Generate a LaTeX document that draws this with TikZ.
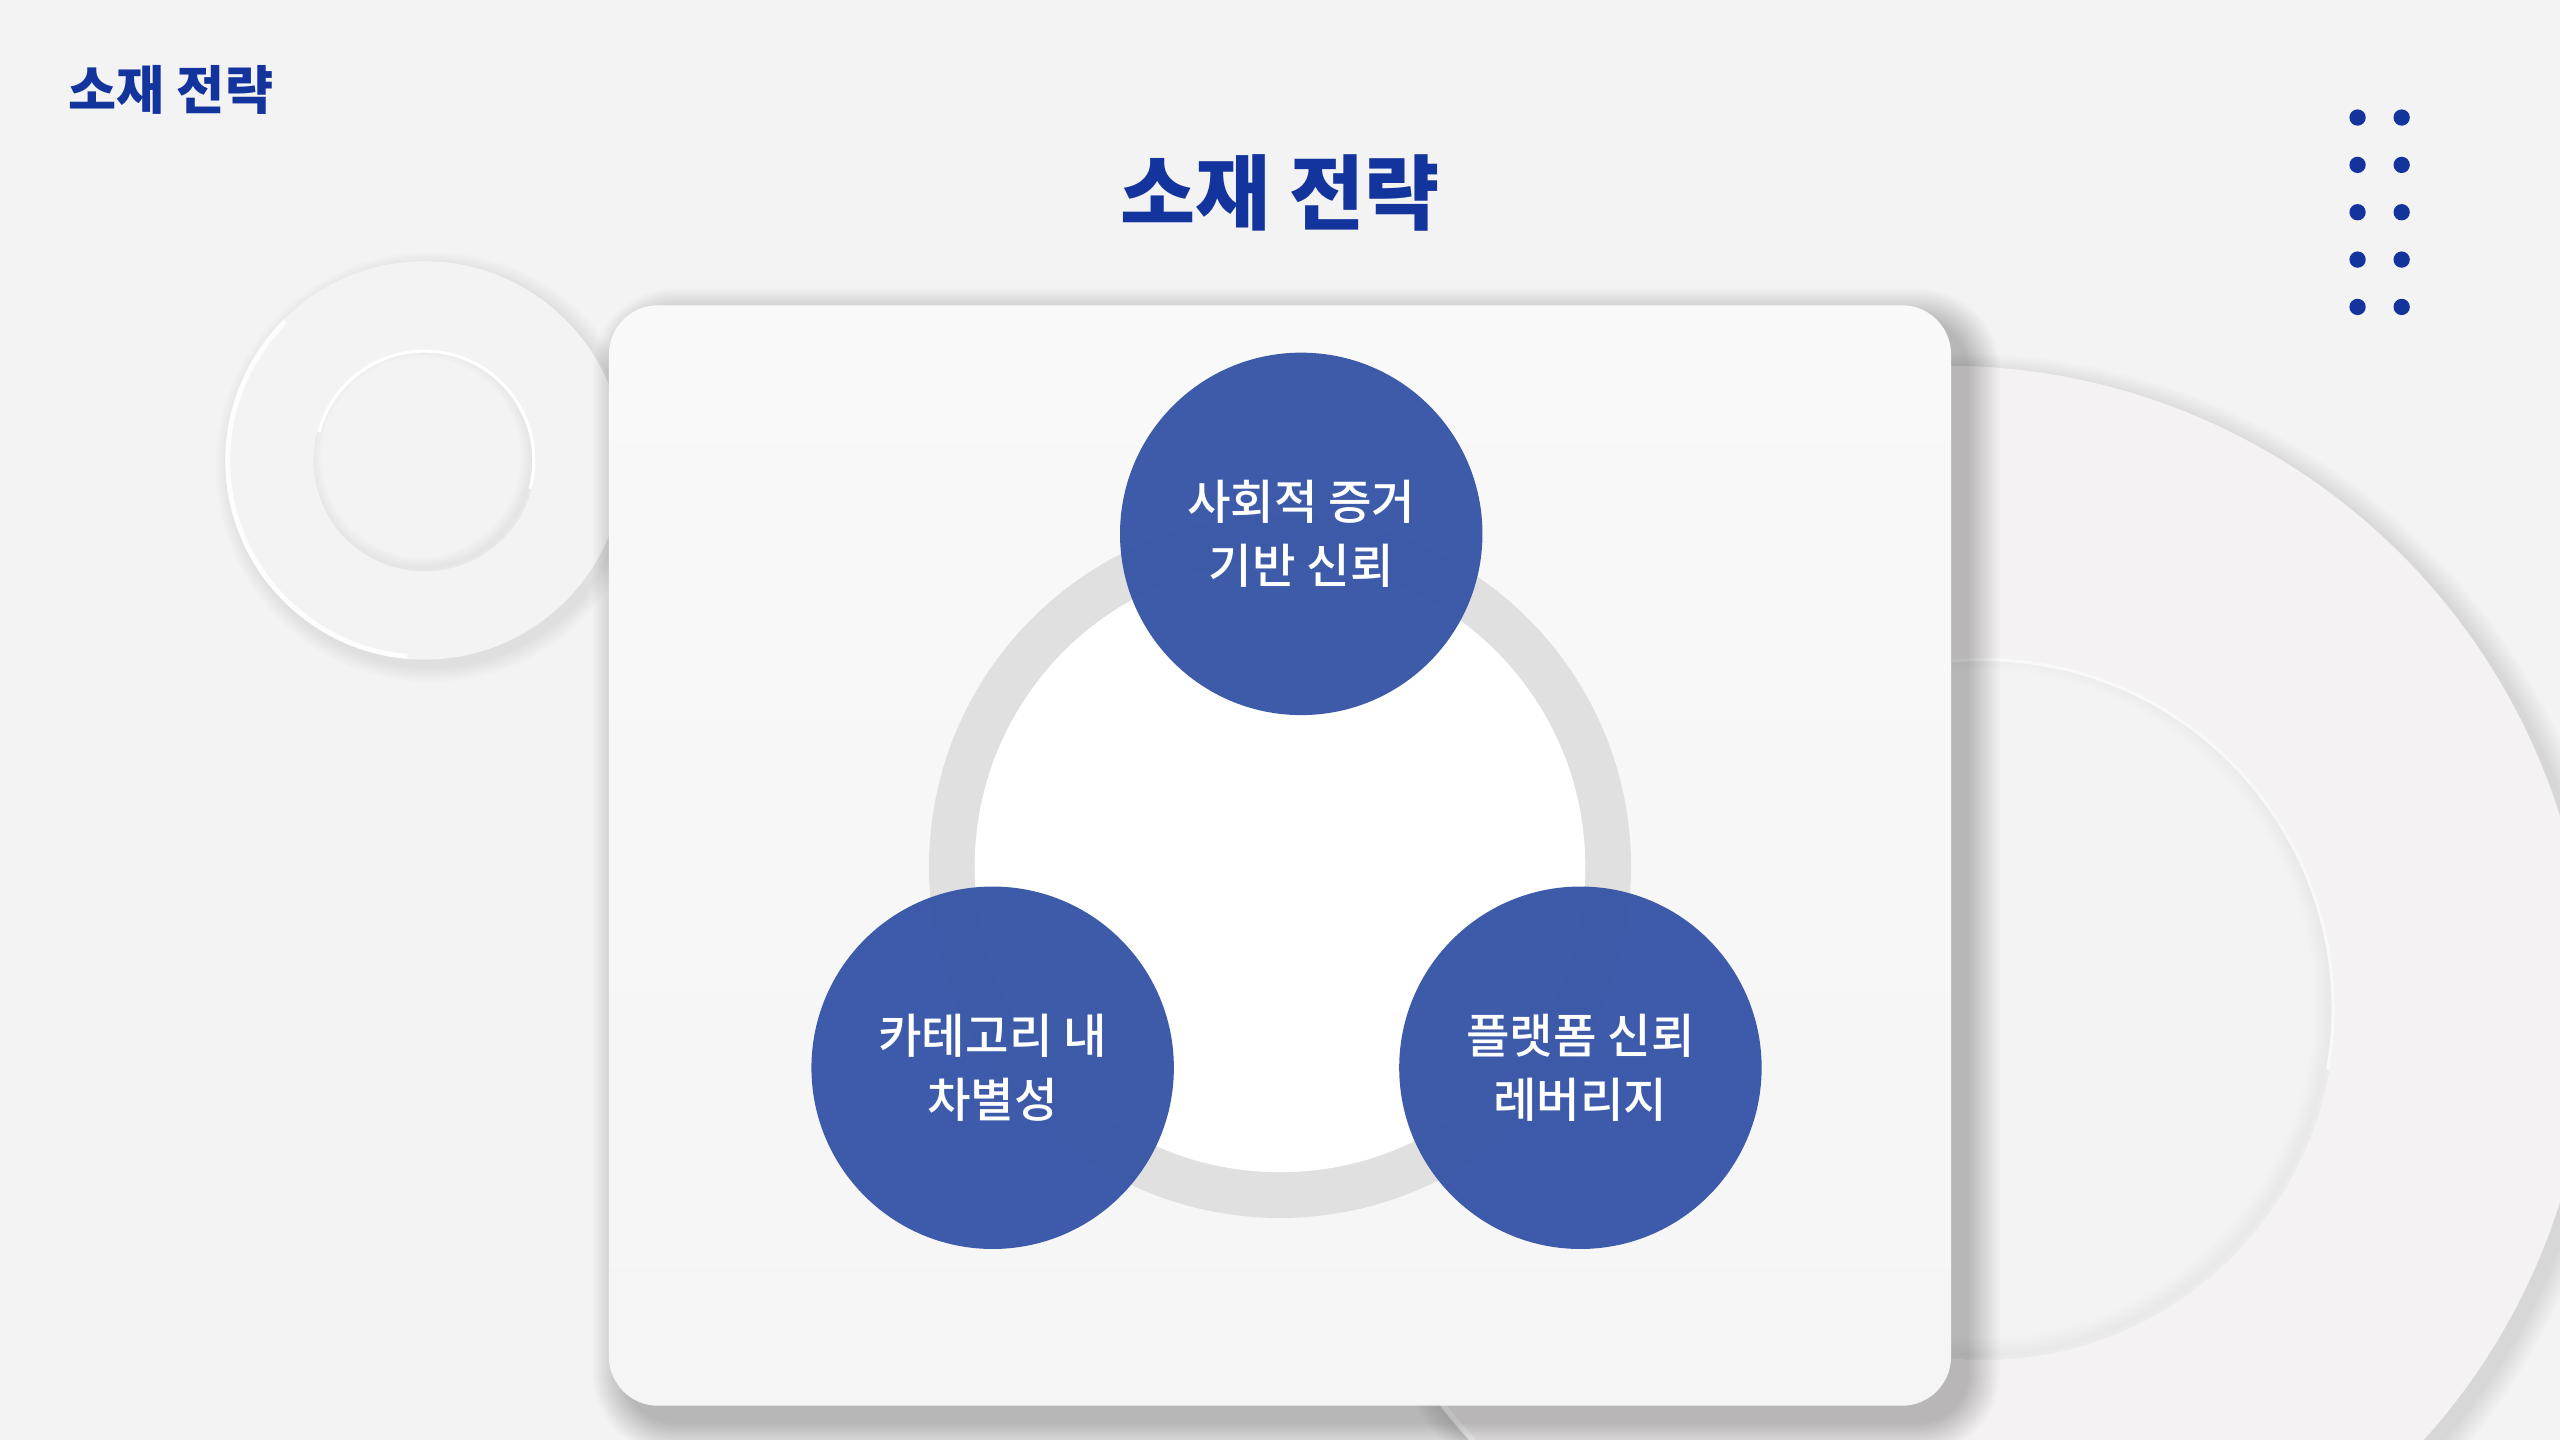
\documentclass[tikz,border=0pt]{standalone}
\usepackage{fontspec}
\setmainfont{Noto Sans CJK KR}
\newfontfamily\medfont{Noto Sans CJK KR Medium}
\definecolor{bg}{HTML}{F3F3F3}
\definecolor{navy}{HTML}{12349C}
\definecolor{bluec}{HTML}{3856A8}
\definecolor{ringgray}{HTML}{E0E0E0}
\definecolor{cardtop}{HTML}{F9F9F9}
\definecolor{cardbot}{HTML}{F5F5F5}
\definecolor{rimgray}{HTML}{E6E6E6}
\definecolor{pinkish}{HTML}{F4F2F3}
\tikzset{
  bubble/.style={circle, minimum size=222pt, inner sep=0pt, fill=bluec, fill opacity=0.97, text opacity=1, text=white, align=center, font=\medfont\fontsize{29}{39}\selectfont},
  dot/.style={circle, fill=navy, minimum size=10pt, inner sep=0pt},
  titletext/.style={text=navy, font=\bfseries\fontsize{50}{56}\selectfont, inner sep=0pt},
  smalltitle/.style={text=navy, font=\bfseries\fontsize{32}{36}\selectfont, inner sep=0pt, anchor=west},
  softshade/.style={fill=black, fill opacity=#1},
}
\begin{document}
\begin{tikzpicture}[x=1pt,y=-1pt]
\useasboundingbox (0,0) rectangle (1568,882);
\fill[bg] (0,0) rectangle (1568,882);
% big decorative ring at right
\begin{scope}
\clip (0,0) rectangle (1568,882);
\foreach \k in {0,...,13}{
  \fill[softshade=0.007] (1198,624) circle ({394+14-\k});
}
\fill[pinkish] (1192,618) circle (394);
\draw[white, line width=3pt, opacity=0.8] (1192,618) ++(100:392) arc (100:210:392);
\fill[bg] (1215,618) circle (215);
\begin{scope}
\clip (1215,618) circle (215);
\foreach \k [evaluate=\k as \lw using 2*\k] in {1,...,10}{
  \draw[black, opacity=0.005, line width=\lw pt] (1212,615) circle (215);
}
\end{scope}
\draw[white, line width=2pt, opacity=0.7] (1215,618) ++(10:214) arc (10:-150:214);
\end{scope}
% left decorative ring
\foreach \k in {0,...,9}{
  \fill[softshade=0.008] (264,286) circle ({122+10-\k});
}
\fill[bg] (260,282) circle (122);
\draw[white, line width=3pt, opacity=0.9] (260,282) ++(95:120.5) arc (95:225:120.5);
\begin{scope}
\clip (260,282) circle (68);
\foreach \k [evaluate=\k as \lw using 2*\k] in {1,...,7}{
  \draw[black, opacity=0.008, line width=\lw pt] (258,280) circle (68);
}
\end{scope}
\draw[white, line width=2pt] (260,282) ++(15:67) arc (15:-165:67);
% card shadow
\foreach \k in {0,...,19}{
  \fill[softshade=0.011, rounded corners={30+20-\k}] ({373+10-20+\k},{187+10-20+\k}) rectangle ({1195+10+20-\k},{861+10+20-\k});
}
% card
\node[draw=none, rounded corners=30pt, minimum width=822pt, minimum height=674pt, top color=cardtop, bottom color=cardbot] (card) at (784,524) {};
% gray ring
\fill[ringgray] (784,531) circle (215);
\fill[white] (784,531) circle (187);
% titles
\node[smalltitle] (small) at (42,55) {소재 전략};
\node[titletext] (title) at (784,118) {소재 전략};
% dots
\foreach \r [count=\i] in {72,101,130,159,188}{
  \node[dot] (dl\i) at (1444,\r) {};
  \node[dot] (dr\i) at (1471,\r) {};
}
% bubbles
\node[bubble] (top) at (797,327) {사회적 증거\\기반 신뢰};
\node[bubble] (left) at (608,654) {카테고리 내\\차별성};
\node[bubble] (right) at (968,654) {플랫폼 신뢰\\레버리지};
\end{tikzpicture}
\end{document}
